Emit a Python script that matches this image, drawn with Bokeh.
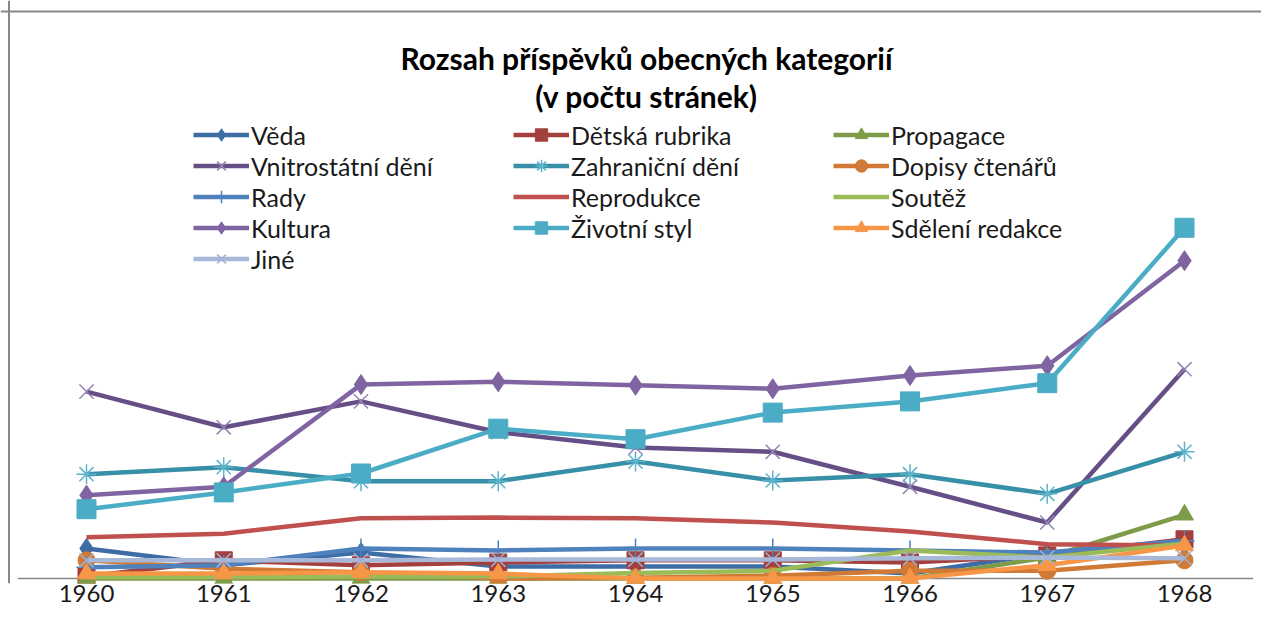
from bokeh.plotting import figure
from bokeh.models import (Range1d, FixedTicker, Legend, LegendItem, Span, Label)
from bokeh.embed import file_html
from bokeh.resources import INLINE

# ---------------- data ----------------
years = [1960, 1961, 1962, 1963, 1964, 1965, 1966, 1967, 1968]
year_labels = ["1960", "1961", "1962", "1963", "1964", "1965", "1966", "1967", "1968"]

veda          = [4.3, 1.9, 3.7, 1.7, 1.7, 1.7, 0.7, 3.6, 4.7]
detska        = [0.3, 2.6, 1.9, 2.3, 2.6, 2.6, 2.3, 3.3, 5.6]
propagace     = [0.0, 0.0, 0.0, 0.0, 0.0, 0.0, 0.0, 3.0, 9.1]
vnitrostatni  = [26.7, 21.6, 25.3, 20.9, 18.7, 18.1, 13.1, 8.0, 29.9]
zahranicni    = [14.9, 15.9, 13.9, 13.9, 16.7, 14.0, 14.9, 12.1, 18.1]
dopisy        = [2.6, 1.4, 0.9, 0.0, 0.1, 0.4, 1.1, 1.1, 2.6]
rady          = [1.6, 1.9, 4.3, 4.0, 4.3, 4.3, 4.0, 3.7, 5.4]
reprodukce    = [5.9, 6.4, 8.6, 8.7, 8.6, 8.0, 6.7, 4.9, 4.7]
soutez        = [0.2, 0.2, 0.3, 0.3, 0.8, 1.1, 4.0, 3.0, 5.0]
kultura       = [11.9, 13.1, 27.7, 28.1, 27.6, 27.1, 29.0, 30.4, 45.4]
zivotni_styl  = [9.9, 12.3, 15.0, 21.4, 19.9, 23.7, 25.3, 27.9, 50.1]
sdeleni       = [0.7, 0.7, 0.9, 0.7, 0.0, 0.0, 0.0, 1.9, 4.7]
jine          = [2.6, 2.6, 2.6, 2.7, 2.7, 2.7, 2.9, 3.0, 2.9]

series_names = ["Věda", "Dětská rubrika", "Propagace",
                "Vnitrostátní dění", "Zahraniční dění", "Dopisy čtenářů",
                "Rady", "Reprodukce", "Soutěž",
                "Kultura", "Životní styl", "Sdělení redakce",
                "Jiné"]
series_values = [veda, detska, propagace, vnitrostatni, zahranicni, dopisy,
                 rady, reprodukce, soutez, kultura, zivotni_styl, sdeleni, jine]

title_line1 = "Rozsah příspěvků obecných kategorií"
title_line2 = "(v počtu stránek)"

# ---------------- styles ----------------
colors = ["#3E6CA4", "#A3403D", "#7E9B48", "#664F86", "#3890A8", "#D07A35",
          "#4F81BD", "#C0504D", "#9BBB59", "#8064A2", "#4BACC6", "#F79646",
          "#A7B8D8"]
marker_colors = ["#3E6CA4", "#A3403D", "#7E9B48", "#9483B5", "#5DB3CB", "#D07A35",
                 "#4F81BD", None, None, "#8064A2", "#4BACC6", "#F79646",
                 "#9FB2D6"]
markers = ["diamond", "square", "triangle", "x", "asterisk", "circle",
           "cross", None, None, "diamond", "square", "triangle", "x"]
msizes = [20, 17, 18, 20, 20, 17, 20, None, None, 20, 19, 18, 20]

FONT = "Lato"

W, H = 1261, 614
px_per_year = 137.25
px_per_unit = 7.0
x_first = 86          # screen x of first category
y_zero = 578          # screen y of value 0
bottom_border = 31
frame_h = H - bottom_border
x0 = years[0] - x_first / px_per_year
x1 = x0 + W / px_per_year
y0 = -(frame_h - y_zero) / px_per_unit
y1 = y0 + frame_h / px_per_unit

p = figure(width=W, height=H, output_backend="svg", toolbar_location=None,
           x_range=Range1d(x0, x1), y_range=Range1d(y0, y1),
           y_axis_location=None, min_border_left=0, min_border_right=0,
           min_border_top=0, min_border_bottom=bottom_border)
p.outline_line_color = None
p.xgrid.grid_line_color = None
p.ygrid.grid_line_color = None
p.background_fill_color = "white"
p.border_fill_color = "white"

ax = p.xaxis[0]
ax.ticker = FixedTicker(ticks=years)
ax.major_label_overrides = {y: lab for y, lab in zip(years, year_labels)}
ax.axis_line_color = None
ax.major_tick_line_color = None
ax.major_tick_out = 0
ax.major_tick_in = 0
ax.minor_tick_line_color = None
ax.minor_tick_out = 0
ax.major_label_standoff = 1
ax.major_label_text_font = FONT
ax.major_label_text_font_size = "24px"
ax.major_label_text_color = "#1a1a1a"

# chart-area frame (left and top edges visible)
p.add_layout(Span(location=x0 + 8.5 / px_per_year, dimension="height",
                  line_color="#878787", line_width=2))
p.add_layout(Span(location=y1 - 11 / px_per_unit, dimension="width",
                  line_color="#878787", line_width=2))

# category axis line at zero
p.line(x=[years[0] - 0.5, years[-1] + 0.5], y=[0, 0], line_color="#878787", line_width=1.5)

items = []
for name, vals, c, mc, mk, ms in zip(series_names, series_values, colors,
                                      marker_colors, markers, msizes):
    rs = [p.line(years, vals, line_color=c, line_width=4.5)]
    if mk is not None:
        if mk in ("x", "asterisk", "cross"):
            rs.append(p.scatter(years, vals, marker=mk, size=ms, line_color=mc,
                                line_width=1.5, fill_color=None))
        else:
            rs.append(p.scatter(years, vals, marker=mk, size=ms, line_color=mc,
                                fill_color=mc, line_width=1))
    items.append(LegendItem(label=name, renderers=rs))

legend_top = 119
legend_h = 5 * 31
legend = Legend(items=items, orientation="horizontal", ncols=3,
                location=(193, frame_h - legend_top - legend_h),
                glyph_width=56, glyph_height=31, label_height=31,
                label_width=262, label_standoff=2, spacing=0, padding=0,
                margin=0, border_line_color=None, background_fill_alpha=0,
                label_text_font=FONT, label_text_font_size="25px",
                label_text_color="#1a1a1a")
p.add_layout(legend, "center")

tx = years[0] + (646 - x_first) / px_per_year
p.add_layout(Label(x=tx, y=(y_zero - 57) / px_per_unit, text=title_line1,
                   text_align="center", text_baseline="middle",
                   text_font=FONT, text_font_size="30px",
                   text_font_style="bold", text_color="#000000"))
p.add_layout(Label(x=tx, y=(y_zero - 95) / px_per_unit, text=title_line2,
                   text_align="center", text_baseline="middle",
                   text_font=FONT, text_font_size="30px",
                   text_font_style="bold", text_color="#000000"))

open("out.html", "w").write(file_html(p, INLINE))
